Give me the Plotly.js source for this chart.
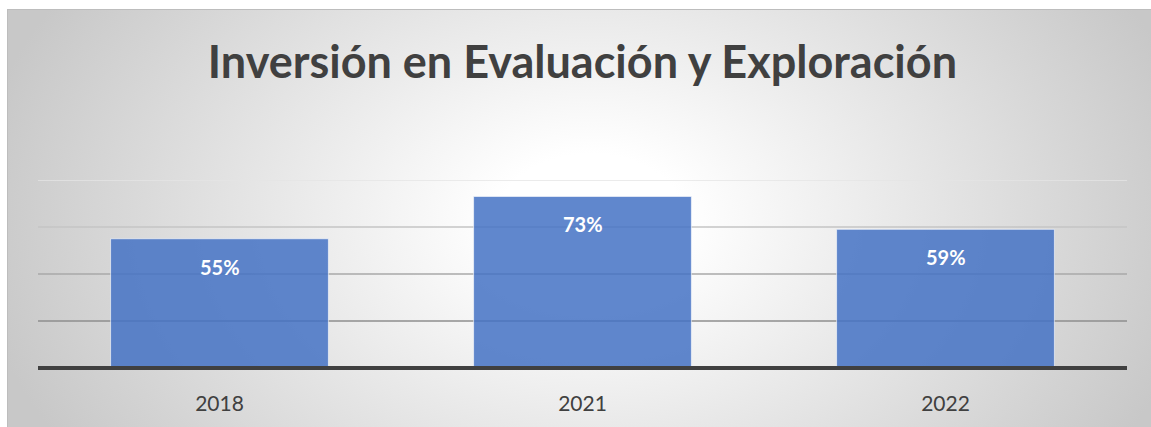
<!DOCTYPE html>
<html>
<head>
<meta charset="utf-8">
<script src="https://cdn.plot.ly/plotly-3.0.1.min.js"></script>
<style>
  html, body { margin: 0; padding: 0; background: #ffffff; width: 1151px; height: 427px; overflow: hidden; }
  #box { position: absolute; left: 7px; top: 9px; width: 1144px; height: 418px; box-sizing: border-box;
         border-top: 1px solid #bdbdbd; border-left: 1px solid #bdbdbd;
         background: radial-gradient(ellipse 620px 430px at 51% 50%, #ffffff 15%, #c8c8c8 100%); }
  #chart { position: absolute; left: 0; top: 0; width: 1151px; height: 427px; }
</style>
</head>
<body>
<div id="box"></div>
<div id="chart"></div>
<script>
const titleText = "Inversión en Evaluación y Exploración";
const categories = ["2018", "2021", "2022"];
const values = [0.55, 0.73, 0.59];
const valueLabels = ["55%", "73%", "59%"];
const gridValues = [0.2, 0.4, 0.6, 0.8];
const gridColors = ["#8e8e8e", "#a8a8a8", "#c4c4c4", "#e4e4e4"];

const trace = {
  type: "bar",
  x: categories,
  y: values,
  width: 0.6,
  marker: { color: "rgba(68,114,196,0.85)", line: { color: "rgba(255,255,255,0.6)", width: 1 } },
  hoverinfo: "none",
  textposition: "none"
};

const shapes = gridValues.map((v, i) => ({
  type: "line", xref: "paper", yref: "y", x0: 0, x1: 1, y0: v, y1: v,
  line: { color: gridColors[i], width: 1.3 }, layer: "below"
}));
shapes.push({
  type: "line", xref: "paper", yref: "y", x0: 0, x1: 1, y0: 0, y1: 0,
  line: { color: "#404040", width: 4 }, layer: "above"
});

const annotations = categories.map((c, i) => ({
  x: i, y: values[i], xref: "x", yref: "y",
  text: valueLabels[i], showarrow: false,
  yanchor: "middle", yshift: -28,
  font: { family: "Lato, 'Open Sans', sans-serif", size: 20, color: "#ffffff", weight: "bold" }
}));

const layout = {
  width: 1151, height: 427,
  margin: { l: 38, r: 24, t: 180, b: 59, pad: 0 },
  paper_bgcolor: "rgba(0,0,0,0)",
  plot_bgcolor: "rgba(0,0,0,0)",
  title: {
    text: "<b>" + titleText + "</b>",
    x: 0.506, xanchor: "center", y: 0.855, yanchor: "middle", yref: "container",
    font: { family: "Lato, 'Open Sans', sans-serif", size: 45, color: "#404040" }
  },
  xaxis: {
    type: "category", showgrid: false, zeroline: false,
    showline: true, linecolor: "#404040", linewidth: 2,
    range: [-0.5, categories.length - 0.5],
    ticks: "", tickfont: { family: "Lato, 'Open Sans', sans-serif", size: 21, color: "#404040" },
    ticklabelstandoff: 16
  },
  yaxis: {
    range: [0, 0.8], showgrid: false, zeroline: false, showline: false,
    showticklabels: false, ticks: "", fixedrange: true
  },
  showlegend: false,
  shapes: shapes,
  annotations: annotations,
  bargap: 0.4
};

Plotly.newPlot("chart", [trace], layout, { displayModeBar: false, staticPlot: true });
</script>
</body>
</html>
